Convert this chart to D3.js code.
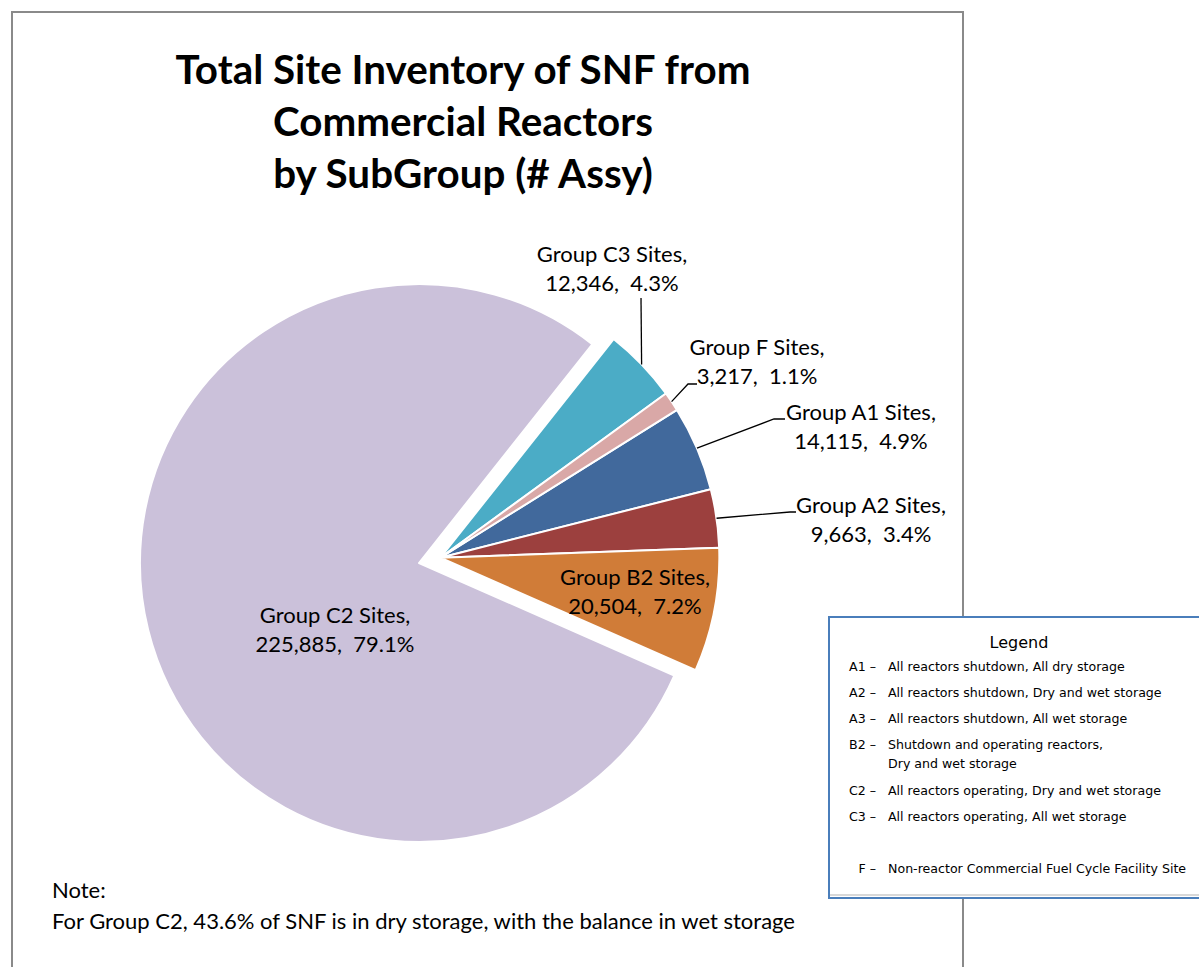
<!DOCTYPE html>
<html>
<head>
<meta charset="utf-8">
<script src="https://cdn.jsdelivr.net/npm/d3@7"></script>
<style>
  body { margin: 0; background: #fff; }
  text { white-space: pre; }
</style>
</head>
<body>
<div id="container"></div>
<script>
/** DATA */
const groups = ["A1", "A2", "B2", "C2", "C3", "F"];
const assemblies = [14115, 9663, 20504, 225885, 12346, 3217];
const sliceColors = ["#41699c", "#9c403e", "#d07c38", "#cbc1da", "#4bacc6", "#d9a8a7"];

const titleLines = ["Total Site Inventory of SNF from", "Commercial Reactors", "by SubGroup (# Assy)"];
const noteLines = ["Note:", "For Group C2, 43.6% of SNF is in dry storage, with the balance in wet storage"];

const legendCodes = ["A1", "A2", "A3", "B2", "C2", "C3", "F"];
const legendDescs = [
  ["All reactors shutdown, All dry storage"],
  ["All reactors shutdown, Dry and wet storage"],
  ["All reactors shutdown, All wet storage"],
  ["Shutdown and operating reactors,", "Dry and wet storage"],
  ["All reactors operating, Dry and wet storage"],
  ["All reactors operating, All wet storage"],
  ["Non-reactor Commercial Fuel Cycle Facility Site"]
];

/** LAYOUT */
const width = 1199, height = 967;
const cx = 419, cy = 563, radius = 279;
const firstSliceDeg = 58, explode = 22;
const labelFont = "Lato, 'Open Sans', sans-serif";

// where each data label sits (center x, first baseline) and its leader bends
const labelLayout = {
  A1: { x: 861, y: 420, leader: [[774, 419], [785, 419]] },
  A2: { x: 871, y: 513, leader: [[790, 512], [796, 512]] },
  B2: { x: 635, y: 585, leader: null },
  C2: { x: 335, y: 623, leader: null },
  C3: { x: 612, y: 262, leader: [[641, 298]] },
  F:  { x: 757, y: 355, leader: [[688, 384], [697, 384]] }
};
const legendRowY = [667, 693, 719, 745, 791, 817, 869];

const data = groups.map((g, i) => ({ group: g, value: assemblies[i], color: sliceColors[i] }));
const total = d3.sum(assemblies);
const fmtNum = d3.format(",");
const fmtPct = d3.format(".1%");

const svg = d3.select("#container")
  .append("svg")
  .attr("width", width)
  .attr("height", height)
  .style("display", "block");

// chart area border
svg.append("rect")
  .attr("x", 12).attr("y", 12)
  .attr("width", 951).attr("height", 1000)
  .attr("fill", "#fff")
  .attr("stroke", "#8a8a8a")
  .attr("stroke-width", 2);

// title
const title = svg.append("g").attr("class", "title")
  .style("font-family", labelFont)
  .style("font-weight", 700)
  .style("font-size", "40px");

const titleText = title.selectAll("text")
  .data(titleLines)
  .join("text")
  .attr("x", 463)
  .attr("y", (d, i) => 84 + i * 52)
  .attr("text-anchor", "middle")
  .attr("fill", "#000")
  .text(d => d);

// squeeze a little so the lines have Calibri-like widths
const k = 575 / titleText.nodes()[0].getComputedTextLength();
titleText.each(function () {
  const w = this.getComputedTextLength();
  d3.select(this).attr("textLength", w * k).attr("lengthAdjust", "spacingAndGlyphs");
});

/** PIE */
const start = firstSliceDeg * Math.PI / 180;
const pie = d3.pie()
  .sort(null)
  .value(d => d.value)
  .startAngle(start)
  .endAngle(start + 2 * Math.PI);

const arcs = pie(data);
const arcGen = d3.arc().innerRadius(0).outerRadius(radius);

// the small groups are pulled out together along the middle of their span
const big = arcs.find(d => d.data.group === "C2");
const midOut = (big.endAngle + big.startAngle + 2 * Math.PI) / 2;
const off = [explode * Math.sin(midOut), -explode * Math.cos(midOut)];
const offsetOf = d => d.data.group === "C2" ? [0, 0] : off;

const pieG = svg.append("g").attr("transform", `translate(${cx},${cy})`);

pieG.selectAll("path.slice")
  .data(arcs)
  .join("path")
  .attr("class", "slice")
  .attr("transform", d => `translate(${offsetOf(d)[0]},${offsetOf(d)[1]})`)
  .attr("d", arcGen)
  .attr("fill", d => d.data.color)
  .attr("stroke", "#fff")
  .attr("stroke-width", 2)
  .attr("stroke-linejoin", "round");

// leader lines
const lineGen = d3.line();
arcs.forEach(d => {
  const lay = labelLayout[d.data.group];
  if (!lay.leader) return;
  const a = (d.startAngle + d.endAngle) / 2;
  const o = offsetOf(d);
  const p0 = [cx + o[0] + radius * Math.sin(a), cy + o[1] - radius * Math.cos(a)];
  svg.append("path")
    .attr("d", lineGen([p0, ...lay.leader]))
    .attr("fill", "none")
    .attr("stroke", "#000")
    .attr("stroke-width", 1.3);
});

// data labels
const labels = svg.append("g")
  .style("font-family", labelFont)
  .style("font-size", "22px")
  .attr("fill", "#000");

arcs.forEach(d => {
  const lay = labelLayout[d.data.group];
  const t = labels.append("text")
    .attr("x", lay.x)
    .attr("y", lay.y)
    .attr("text-anchor", "middle");
  t.append("tspan").attr("x", lay.x).text(`Group ${d.data.group} Sites,`);
  t.append("tspan").attr("x", lay.x).attr("dy", 29)
    .text(`${fmtNum(d.data.value)},  ${fmtPct(d.data.value / total)}`);
});

// note
svg.append("g")
  .style("font-family", labelFont)
  .style("font-size", "22px")
  .selectAll("text")
  .data(noteLines)
  .join("text")
  .attr("x", 52)
  .attr("y", (d, i) => 898 + i * 31)
  .attr("fill", "#000")
  .text(d => d);

/** LEGEND BOX */
const legend = svg.append("g")
  .style("font-family", "'DejaVu Sans', Verdana, sans-serif")
  .attr("fill", "#000");

legend.append("rect")
  .attr("x", 829).attr("y", 617)
  .attr("width", 400).attr("height", 281)
  .attr("fill", "#fff")
  .attr("stroke", "#4a7ebb")
  .attr("stroke-width", 2);

// faint inner shade along the bottom edge
legend.append("line")
  .attr("x1", 830).attr("x2", 1199)
  .attr("y1", 895).attr("y2", 895)
  .attr("stroke", "#d8d8d8")
  .attr("stroke-width", 2);

legend.append("text")
  .attr("x", 1019).attr("y", 648)
  .attr("text-anchor", "middle")
  .style("font-size", "16px")
  .text("Legend");

const rows = legend.selectAll("g.row")
  .data(legendCodes)
  .join("g")
  .attr("class", "row")
  .style("font-size", "12.6px");

rows.append("text")
  .attr("x", 876)
  .attr("y", (d, i) => legendRowY[i] + 4)
  .attr("text-anchor", "end")
  .text(d => `${d} \u2013`);

rows.append("text")
  .attr("x", 888)
  .attr("y", (d, i) => legendRowY[i] + 4)
  .each(function (d, i) {
    d3.select(this).selectAll("tspan")
      .data(legendDescs[i])
      .join("tspan")
      .attr("x", 888)
      .attr("dy", (t, j) => j === 0 ? 0 : 19)
      .text(t => t);
  });
</script>
</body>
</html>
